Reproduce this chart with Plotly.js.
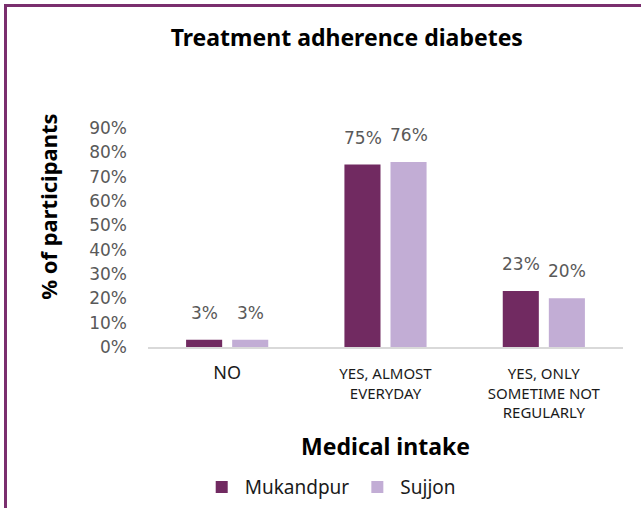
<!DOCTYPE html>
<html>
<head>
<meta charset="utf-8">
<script src="https://cdn.plot.ly/plotly-3.0.1.min.js"></script>
<style>
html,body{margin:0;padding:0;background:#fff;}
#wrap{position:relative;width:641px;height:508px;overflow:hidden;}
#chart{position:absolute;left:0;top:0;width:641px;height:508px;}
#frame{position:absolute;left:4px;top:4px;width:700px;height:600px;border-top:3px solid #7a2f6e;border-left:3px solid #7a2f6e;pointer-events:none;}
</style>
</head>
<body>
<div id="wrap"><div id="chart"></div><div id="frame"></div></div>
<script>
var categories = ["NO", "YES, ALMOST<br>EVERYDAY", "YES, ONLY<br>SOMETIME NOT<br>REGULARLY"];
var seriesNames = ["Mukandpur", "Sujjon"];
var mukandpur = [3, 75, 23];
var sujjon = [3, 76, 20];
var yTickVals = [0, 10, 20, 30, 40, 50, 60, 70, 80, 90];

var colors = ["#712a61", "#c2add5"];
var values = [mukandpur, sujjon];

var traces = values.map(function(v, i){
  return {
    type: "bar",
    name: seriesNames[i],
    x: categories,
    y: v,
    marker: {color: colors[i]},
    hoverinfo: "none"
  };
});

var annotations = [];
values.forEach(function(v, i){
  v.forEach(function(val, j){
    annotations.push({
      x: categories[j], y: val, xref: "x", yref: "y",
      text: val + "%", showarrow: false,
      xshift: i === 0 ? -23 : 23, yshift: 27,
      yanchor: "middle",
      font: {family: "DejaVu Sans", size: 17, color: "#595959"}
    });
  });
});
annotations.push({
  xref: "paper", yref: "paper", x: -0.2105, y: 0.64,
  xanchor: "center", yanchor: "middle", textangle: -90, showarrow: false,
  text: "<b>% of participants</b>",
  font: {family: "Noto Sans", size: 22, color: "#000"}
});

var layout = {
  width: 641, height: 508,
  paper_bgcolor: "#ffffff", plot_bgcolor: "#ffffff",
  margin: {l: 148, r: 18, t: 128, b: 161},
  title: {text: "<b>Treatment adherence diabetes</b>", x: 0.541, xanchor: "center", y: 0.925, yanchor: "middle",
          font: {family: "Noto Sans", size: 23, color: "#000"}},
  barmode: "group",
  bargap: 0.418,
  bargroupgap: 0.217,
  xaxis: {
    type: "category",
    tickvals: categories,
    ticktext: categories.map(function(c, k){ return k === 0 ? '<span style="font-size:18px">' + c + '</span>' : c; }),
    showline: true, linecolor: "#d9d9d9", linewidth: 2,
    showgrid: false, zeroline: false, ticks: "",
    ticklabelstandoff: 12,
    tickfont: {family: "Noto Sans", size: 15, color: "#1a1a1a"},
    title: {text: "<b>Medical intake</b>", font: {family: "Noto Sans", size: 23, color: "#000"}, standoff: 18}
  },
  yaxis: {
    range: [0, 90],
    tickvals: yTickVals,
    ticktext: yTickVals.map(function(t){ return t + "%"; }),
    showgrid: false, zeroline: false, showline: false, ticks: "",
    ticklabelstandoff: 20,
    tickfont: {family: "DejaVu Sans", size: 17, color: "#595959"}
  },
  showlegend: true,
  legend: {orientation: "h", xref: "container", yref: "container", x: 0.31, xanchor: "left", y: 0.041, yanchor: "middle",
           font: {family: "Noto Sans", size: 19, color: "#1a1a1a"}, traceorder: "normal", itemwidth: 36},
  annotations: annotations
};

Plotly.newPlot("chart", traces, layout, {displayModeBar: false, staticPlot: true});
</script>
</body>
</html>
